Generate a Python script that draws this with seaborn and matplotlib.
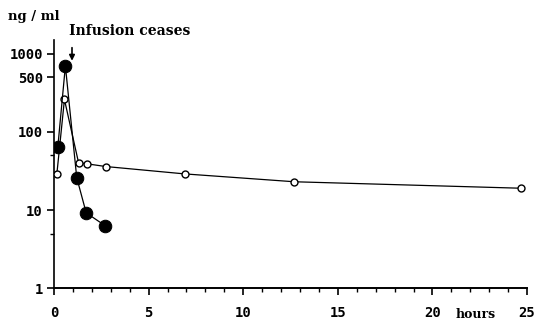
"""
Plasma concentration after infusion, log scale
"""
import pandas as pd
import matplotlib
matplotlib.use("Agg")
import matplotlib.pyplot as plt
from matplotlib.ticker import FixedLocator, NullFormatter
import seaborn as sns

# filled circles
filled_hours = [0.2, 0.6, 1.2, 1.7, 2.7]
filled_conc = [64, 700, 26, 9.2, 6.3]

# open circles
open_hours = [0.15, 0.55, 1.3, 1.75, 2.75, 6.9, 12.7, 24.7]
open_conc = [29, 260, 40, 39, 36, 29, 23, 19]

x_ticks = [0, 5, 10, 15, 20, 25]
y_ticks = [1, 10, 100, 500, 1000]

sns.set_style("ticks", {"axes.edgecolor": "black", "xtick.color": "black",
                        "ytick.color": "black", "text.color": "black"})
plt.rcParams['font.family'] = ['DejaVu Serif']

fig = plt.figure(figsize=(5.37, 3.23), dpi=100)
ax = fig.add_axes([0.1006, 0.108, 0.881, 0.768])

filled = pd.DataFrame({"hours": filled_hours, "conc": filled_conc})
opened = pd.DataFrame({"hours": open_hours, "conc": open_conc})

sns.lineplot(data=opened, x="hours", y="conc", color="black", lw=0.9,
             marker="o", markersize=5, markerfacecolor="white",
             markeredgecolor="black", markeredgewidth=1.0, ax=ax, zorder=3)
sns.lineplot(data=filled, x="hours", y="conc", color="black", lw=0.9,
             marker="o", markersize=9, markerfacecolor="black",
             markeredgecolor="black", ax=ax, zorder=4)

ax.set_yscale("log")
ax.set_xlim(0, 25)
ax.set_ylim(1, 1500)

ax.xaxis.set_major_locator(FixedLocator(x_ticks))
ax.xaxis.set_minor_locator(FixedLocator(range(0, 26)))
ax.yaxis.set_major_locator(FixedLocator(y_ticks))
ax.yaxis.set_minor_locator(FixedLocator([5, 50]))
ax.yaxis.set_minor_formatter(NullFormatter())
ax.set_xticklabels([str(t) for t in x_ticks])
ax.set_yticklabels([str(t) for t in y_ticks])

for lab in ax.get_xticklabels() + ax.get_yticklabels():
    lab.set_fontweight("bold")
    lab.set_fontsize(10)
    lab.set_family("DejaVu Sans Mono")
    lab.set_color("black")

ax.tick_params(axis="both", which="major", direction="out", length=5, width=1.2, pad=8)
ax.tick_params(axis="both", which="minor", direction="out", length=3, width=1.0)
ax.tick_params(axis="y", pad=3)

sns.despine(ax=ax)
ax.spines["left"].set_linewidth(1.2)
ax.spines["bottom"].set_linewidth(1.4)
ax.set_xlabel("")
ax.set_ylabel("")

fig.text(0.015, 0.97, "ng / ml", fontsize=9.5, fontweight="bold", va="top", color="black")
fig.text(0.128, 0.925, "Infusion ceases", fontsize=10, fontweight="bold", va="top", color="black")
fig.text(0.848, 0.005, "hours", fontsize=9, fontweight="bold", va="bottom", color="black")
ax.annotate("", xy=(0.95, 750), xytext=(0.95, 1300),
            arrowprops=dict(arrowstyle="-|>", color="black", lw=1.2,
                            mutation_scale=8), annotation_clip=False)

plt.savefig("out.png", dpi=100)
